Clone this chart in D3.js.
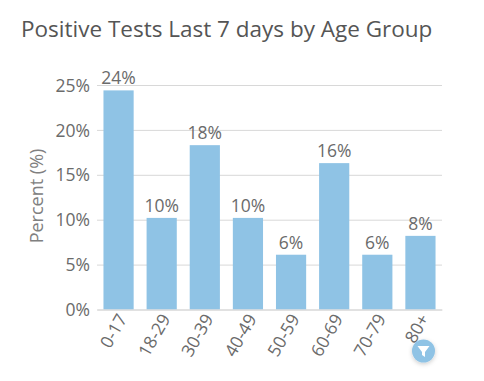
<!DOCTYPE html>
<html>
<head>
<meta charset="utf-8">
<script src="https://cdn.jsdelivr.net/npm/d3@7"></script>
<style>
    html, body { margin: 0; padding: 0; background: #fff; }
    text { font-family: "Open Sans", sans-serif; fill: #6b6b6b; }
    .title { font-size: 22.5px; fill: #555; }
    .axis text { font-size: 17.5px; }
    .axis-label { font-size: 18px; fill: #808080; }
    .bar-label { font-size: 17.5px; }
</style>
</head>
<body>
<div id="chart"></div>
<script>
// values
const ageGroups = ["0-17", "18-29", "30-39", "40-49", "50-59", "60-69", "70-79", "80+"];
const percentPositive = [24.4, 10.2, 18.3, 10.2, 6.1, 16.3, 6.1, 8.2];
const yTicks = [0, 5, 10, 15, 20, 25];

const width = 484, height = 381;
const margin = {top: 85, right: 42, bottom: 71.5, left: 97};
const innerW = width - margin.left - margin.right;
const innerH = height - margin.top - margin.bottom;

const svg = d3.select("#chart").append("svg")
    .attr("width", width)
    .attr("height", height)
    .style("display", "block");

svg.append("text")
    .attr("class", "title")
    .attr("x", 21)
    .attr("y", 37)
    .text("Positive Tests Last 7 days by Age Group");

const g = svg.append("g")
    .attr("transform", `translate(${margin.left}, ${margin.top})`);

// scales
const x = d3.scaleBand()
    .domain(ageGroups)
    .range([0, innerW])
    .paddingInner(0.3)
    .paddingOuter(0.15);

const y = d3.scaleLinear()
    .domain([0, 25])
    .range([innerH, 0]);

// y axis with gridlines
const yAxis = d3.axisLeft(y)
    .tickValues(yTicks)
    .tickFormat(d => d + "%")
    .tickSize(-innerW)
    .tickPadding(7);

g.append("g")
    .attr("class", "axis y-axis")
    .call(yAxis)
    .call(a => a.select(".domain").remove())
    .call(a => a.selectAll("line").attr("stroke", "#d8d8d8"))
    .call(a => a.selectAll("text").attr("dy", "0.35em"));

// bars
g.selectAll("rect.bar")
    .data(ageGroups)
    .enter().append("rect")
    .attr("class", "bar")
    .attr("x", d => x(d))
    .attr("width", x.bandwidth())
    .attr("y", (d, i) => y(percentPositive[i]))
    .attr("height", (d, i) => innerH - y(percentPositive[i]))
    .attr("fill", "#8fc3e5");

// value labels
g.selectAll("text.bar-label")
    .data(ageGroups)
    .enter().append("text")
    .attr("class", "bar-label")
    .attr("x", d => x(d) + x.bandwidth() / 2)
    .attr("y", (d, i) => y(percentPositive[i]) - 6)
    .attr("text-anchor", "middle")
    .text((d, i) => d3.format(".0f")(percentPositive[i]) + "%");

// x axis
const xAxis = d3.axisBottom(x).tickSize(0);

g.append("g")
    .attr("class", "axis x-axis")
    .attr("transform", `translate(0, ${innerH})`)
    .call(xAxis)
    .call(a => a.select(".domain").attr("stroke", "#d8d8d8"))
    .selectAll("text")
    .attr("text-anchor", "end")
    .attr("dy", "0.35em")
    .attr("transform", "translate(4, 6) rotate(-60)")
    .attr("x", 0)
    .attr("y", 0);

// y axis title
svg.append("text")
    .attr("class", "axis-label")
    .attr("transform", "translate(37, 196) rotate(-90)")
    .attr("text-anchor", "middle")
    .attr("dy", "0.35em")
    .text("Percent (%)");

// filter button
const btn = svg.append("g")
    .attr("transform", "translate(423.5, 351)");

const shadow = svg.append("defs").append("filter")
    .attr("id", "btnShadow")
    .attr("x", "-50%").attr("y", "-50%")
    .attr("width", "200%").attr("height", "200%");
shadow.append("feDropShadow")
    .attr("dx", 0).attr("dy", 1.5)
    .attr("stdDeviation", 2)
    .attr("flood-color", "#000")
    .attr("flood-opacity", 0.2);

btn.append("circle")
    .attr("r", 11.5)
    .attr("fill", "#8fc3e5")
    .attr("filter", "url(#btnShadow)");

btn.append("path")
    .attr("d", d3.line()([[-6, -5], [6, -5], [1.5, 1], [1.5, 6], [-1.5, 4], [-1.5, 1]]) + "Z")
    .attr("fill", "#fff");
</script>
</body>
</html>
